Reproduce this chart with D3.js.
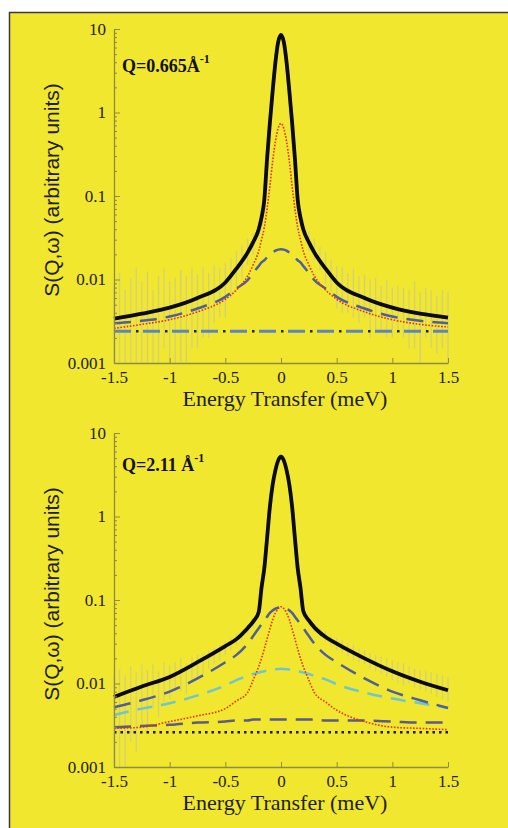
<!DOCTYPE html>
<html>
<head>
<meta charset="utf-8">
<script src="https://cdn.jsdelivr.net/npm/d3@7"></script>
<style>
  body { margin: 0; background: #fff; }
  svg { display: block; }
</style>
</head>
<body>
<script>
// energy grid (meV) used for the fitted curves
var xs = [-1.5, -1.25, -1, -0.75, -0.5, -0.4, -0.3, -0.25, -0.2, -0.175, -0.15, -0.125, -0.1, -0.075, -0.05, -0.025, 0,
          0.025, 0.05, 0.075, 0.1, 0.125, 0.15, 0.175, 0.2, 0.25, 0.3, 0.4, 0.5, 0.75, 1, 1.25, 1.5];

// Q = 0.665 1/A
var topTotal = [0.0034, 0.0039, 0.0046, 0.006, 0.0092, 0.0135, 0.021, 0.028, 0.04, 0.055, 0.09, 0.28, 0.75, 1.8, 4.0, 7.0, 8.5,
                7.0, 4.0, 1.8, 0.75, 0.28, 0.09, 0.055, 0.04, 0.028, 0.021, 0.0135, 0.0092, 0.006, 0.0046, 0.0039, 0.0035];
var topNarrow = [0.0026, 0.0029, 0.0033, 0.0041, 0.0058, 0.0075, 0.011, 0.015, 0.022, 0.03, 0.042, 0.07, 0.13, 0.26, 0.45, 0.65, 0.74,
                 0.65, 0.45, 0.26, 0.13, 0.07, 0.042, 0.03, 0.022, 0.015, 0.011, 0.0075, 0.0058, 0.0041, 0.0033, 0.0029, 0.0027];
var topBroad = [0.003, 0.0032, 0.0036, 0.0045, 0.0062, 0.0078, 0.0098, 0.012, 0.0145, 0.016, 0.017, 0.0185, 0.02, 0.021, 0.0222, 0.0228, 0.023,
                0.0228, 0.0222, 0.021, 0.02, 0.0185, 0.017, 0.016, 0.0145, 0.012, 0.0098, 0.0078, 0.0062, 0.0045, 0.0036, 0.0032, 0.003];
var topBgX = [-1.5, 1.5];
var topBg = [0.0024, 0.0024];

// Q = 2.11 1/A
var botTotal = [0.0069, 0.0092, 0.012, 0.018, 0.028, 0.034, 0.046, 0.055, 0.072, 0.14, 0.24, 0.55, 1.3, 2.4, 3.6, 4.7, 5.2,
                4.7, 3.6, 2.4, 1.3, 0.55, 0.24, 0.14, 0.074, 0.057, 0.047, 0.036, 0.03, 0.02, 0.014, 0.0105, 0.0083];
var botBroad = [0.0052, 0.0063, 0.008, 0.0115, 0.018, 0.022, 0.03, 0.037, 0.046, 0.051, 0.057, 0.063, 0.07, 0.075, 0.079, 0.081, 0.082,
                0.081, 0.079, 0.075, 0.07, 0.063, 0.057, 0.051, 0.046, 0.037, 0.03, 0.022, 0.018, 0.0115, 0.008, 0.0063, 0.0051];
var botWide = [0.0042, 0.005, 0.0058, 0.0072, 0.0095, 0.011, 0.0123, 0.013, 0.0135, 0.0138, 0.014, 0.0143, 0.0145, 0.0147, 0.0148, 0.0149, 0.015,
               0.0149, 0.0148, 0.0147, 0.0145, 0.0143, 0.014, 0.0138, 0.0135, 0.013, 0.0123, 0.0112, 0.0098, 0.0078, 0.0066, 0.0058, 0.0051];
var botNarrow = [0.0029, 0.003, 0.0035, 0.0041, 0.005, 0.0062, 0.0078, 0.011, 0.016, 0.02, 0.026, 0.034, 0.045, 0.058, 0.07, 0.079, 0.083,
                 0.079, 0.07, 0.058, 0.045, 0.034, 0.026, 0.02, 0.016, 0.011, 0.0078, 0.006, 0.0048, 0.0035, 0.003, 0.0029, 0.0028];
var botFlat = [0.003, 0.0031, 0.0032, 0.0034, 0.0035, 0.0036, 0.0036, 0.0037, 0.0037, 0.0037, 0.0037, 0.0037, 0.0037, 0.0037, 0.0037, 0.0037, 0.0037,
               0.0037, 0.0037, 0.0037, 0.0037, 0.0037, 0.0037, 0.0037, 0.0037, 0.0037, 0.0037, 0.0036, 0.0036, 0.0036, 0.0035, 0.0034, 0.0034];
var botBgX = [-1.5, 1.5];
var botBg = [0.0026, 0.0026];

// measured points (every 0.05 meV) and their error bars
var dataX = d3.range(61).map(function(i) { return +(-1.5 + i * 0.05).toFixed(2); });
var topData = [0.0045, 0.006, 0.004, 0.0055, 0.007, 0.005, 0.0065, 0.004, 0.006, 0.0075, 0.005,
               0.0055, 0.007, 0.006, 0.0075, 0.0065, 0.008, 0.007, 0.009, 0.0085, 0.0095,
               0.012, 0.015, 0.018, 0.023, 0.028, 0.042, 0.09, 0.75, 4.0, 8.4,
               4.0, 0.75, 0.09, 0.045, 0.03, 0.024, 0.019, 0.015, 0.012, 0.0095,
               0.009, 0.008, 0.0085, 0.007, 0.0075, 0.006, 0.0065, 0.0055, 0.006, 0.005,
               0.0055, 0.005, 0.0045, 0.0055, 0.004, 0.005, 0.0045, 0.0038, 0.0045, 0.004];
var topErr = [0.004, 0.006, 0.0035, 0.005, 0.007, 0.0045, 0.006, 0.0035, 0.005, 0.006, 0.0045,
              0.005, 0.006, 0.005, 0.006, 0.005, 0.006, 0.005, 0.006, 0.005, 0.006,
              0.006, 0.007, 0.008, 0.008, 0.008, 0.008, 0.01, 0.05, 0.2, 0.3,
              0.2, 0.05, 0.01, 0.008, 0.008, 0.007, 0.006, 0.006, 0.005, 0.005,
              0.005, 0.004, 0.005, 0.004, 0.004, 0.004, 0.004, 0.003, 0.004, 0.003,
              0.003, 0.003, 0.003, 0.004, 0.003, 0.003, 0.003, 0.0025, 0.003, 0.003];
var botData = [0.007, 0.008, 0.0065, 0.009, 0.0075, 0.01, 0.0085, 0.011, 0.009, 0.012, 0.0115,
               0.013, 0.014, 0.0125, 0.016, 0.017, 0.018, 0.02, 0.022, 0.024, 0.027,
               0.03, 0.034, 0.038, 0.045, 0.053, 0.072, 0.24, 1.3, 3.6, 5.2,
               3.6, 1.3, 0.24, 0.074, 0.056, 0.047, 0.041, 0.037, 0.033, 0.03,
               0.028, 0.026, 0.024, 0.022, 0.021, 0.019, 0.018, 0.017, 0.016, 0.015,
               0.014, 0.0135, 0.013, 0.012, 0.0115, 0.011, 0.0105, 0.01, 0.0095, 0.009];
var botErr = [0.006, 0.007, 0.006, 0.007, 0.006, 0.007, 0.006, 0.006, 0.005, 0.006, 0.005,
              0.005, 0.006, 0.005, 0.005, 0.005, 0.005, 0.005, 0.005, 0.005, 0.005,
              0.005, 0.005, 0.005, 0.005, 0.006, 0.008, 0.02, 0.06, 0.15, 0.2,
              0.15, 0.06, 0.02, 0.008, 0.006, 0.005, 0.005, 0.005, 0.005, 0.005,
              0.005, 0.005, 0.005, 0.004, 0.004, 0.004, 0.004, 0.004, 0.004, 0.004,
              0.004, 0.004, 0.003, 0.003, 0.003, 0.003, 0.003, 0.003, 0.003, 0.003];

var xTicks = [-1.5, -1, -0.5, 0, 0.5, 1, 1.5];
var yTicks = [0.001, 0.01, 0.1, 1, 10];

var SERIF = "'Liberation Serif', 'Times New Roman', serif";
var SANS = "'Liberation Sans', Arial, sans-serif";

var W = 508, H = 828;
var svg = d3.select("body").append("svg").attr("width", W).attr("height", H);

// yellow page with a dark frame on the top/left edge
svg.append("rect").attr("x", 9.5).attr("y", 12.5).attr("width", W).attr("height", H)
   .attr("fill", "#f1e72e").attr("stroke", "#3a3a3a").attr("stroke-width", 1.5);

function zip(xv, yv) { return xv.map(function(x, i) { return [x, yv[i]]; }); }

function panel(top, label, series, data, err) {
  var left = 114, right = 448, bottom = top + 334;
  var x = d3.scaleLinear().domain([-1.5, 1.5]).range([left, right]);
  var y = d3.scaleLog().domain([0.001, 10]).range([bottom, top]).clamp(true);
  var g = svg.append("g");

  // error bars of the measured data
  g.append("g").selectAll("line").data(dataX).join("line")
    .attr("x1", function(d) { return x(d); }).attr("x2", function(d) { return x(d); })
    .attr("y1", function(d, i) { return y(Math.max(data[i] - err[i], 0.001)); })
    .attr("y2", function(d, i) { return y(data[i] + err[i]); })
    .attr("stroke", "#c2c1ad").attr("stroke-opacity", 0.6).attr("stroke-width", 1.3);

  var line = d3.line().curve(d3.curveMonotoneX)
    .x(function(d) { return x(d[0]); }).y(function(d) { return y(d[1]); });

  series.forEach(function(s) {
    g.append("path").datum(zip(s.x, s.y)).attr("d", line)
      .attr("fill", "none").attr("stroke", s.color).attr("stroke-width", s.width)
      .attr("stroke-dasharray", s.dash || null).attr("stroke-dashoffset", s.offset || 0);
  });

  // axes
  var axisColor = "#8d8b45";
  var minor = y.ticks().filter(function(t) { return yTicks.indexOf(t) < 0; });
  g.append("g").attr("transform", "translate(" + left + ",0)")
    .call(d3.axisLeft(y).tickValues(minor).tickSize(-3).tickFormat(""))
    .call(function(a) { a.select(".domain").remove(); a.selectAll("line").attr("stroke", axisColor); });
  var ya = g.append("g").attr("transform", "translate(" + left + ",0)")
    .call(d3.axisLeft(y).tickValues(yTicks).tickSize(-6).tickSizeOuter(0).tickPadding(8)
      .tickFormat(function(d) { return String(d); }));
  var xa = g.append("g").attr("transform", "translate(0," + bottom + ")")
    .call(d3.axisBottom(x).tickValues(xTicks).tickSize(-5).tickSizeOuter(0).tickPadding(8)
      .tickFormat(function(d) { return String(d); }));
  [ya, xa].forEach(function(a) {
    a.select(".domain").attr("stroke", axisColor).attr("stroke-width", 1.3);
    a.selectAll("line").attr("stroke", axisColor);
    a.selectAll("text").attr("fill", "#1e1e10")
      .style("font-family", SERIF).style("font-size", "17px");
  });

  g.append("text").attr("x", (left + right) / 2 + 4).attr("y", bottom + 43)
    .attr("text-anchor", "middle").attr("fill", "#1e1e10")
    .style("font-family", SERIF).style("font-size", "22px")
    .text("Energy Transfer (meV)");

  g.append("text").attr("transform", "translate(59," + (top + 161) + ") rotate(-90)")
    .attr("text-anchor", "middle").attr("fill", "#1e1e10")
    .style("font-family", SANS).style("font-size", "21px")
    .text("S(Q,\u03c9) (arbitrary units)");

  var t = g.append("text").attr("x", 122).attr("y", top + label.dy).attr("fill", "#111")
    .style("font-family", SERIF).style("font-weight", "bold").style("font-size", "18px");
  t.append("tspan").text(label.text);
  t.append("tspan").attr("dy", -9).style("font-size", "12px").text("-1");
}

panel(29, { text: "Q=0.665\u00c5", dy: 43 }, [
  { x: topBgX, y: topBg, color: "#5b86c4", width: 3, dash: "17,12" },
  { x: topBgX, y: topBg, color: "#222", width: 2.5, dash: "2.5,26.5", offset: 7 },
  { x: xs, y: topBroad, color: "#4d5f9e", width: 2.5, dash: "17,9" },
  { x: xs, y: topNarrow, color: "#e0331c", width: 1.6, dash: "1.6,1.6" },
  { x: xs, y: topTotal, color: "#0a0a0a", width: 3.8 }
], topData, topErr);

panel(433, { text: "Q=2.11 \u00c5", dy: 38 }, [
  { x: botBgX, y: botBg, color: "#1a1a1a", width: 2.5, dash: "2.5,4" },
  { x: xs, y: botFlat, color: "#5a5a8c", width: 2.5, dash: "17,9" },
  { x: xs, y: botWide, color: "#6cc6d6", width: 2.5, dash: "15,9" },
  { x: xs, y: botBroad, color: "#4d5f9e", width: 2.5, dash: "17,9" },
  { x: xs, y: botNarrow, color: "#e0331c", width: 1.6, dash: "1.6,1.6" },
  { x: xs, y: botTotal, color: "#0a0a0a", width: 3.8 }
], botData, botErr);
</script>
</body>
</html>
